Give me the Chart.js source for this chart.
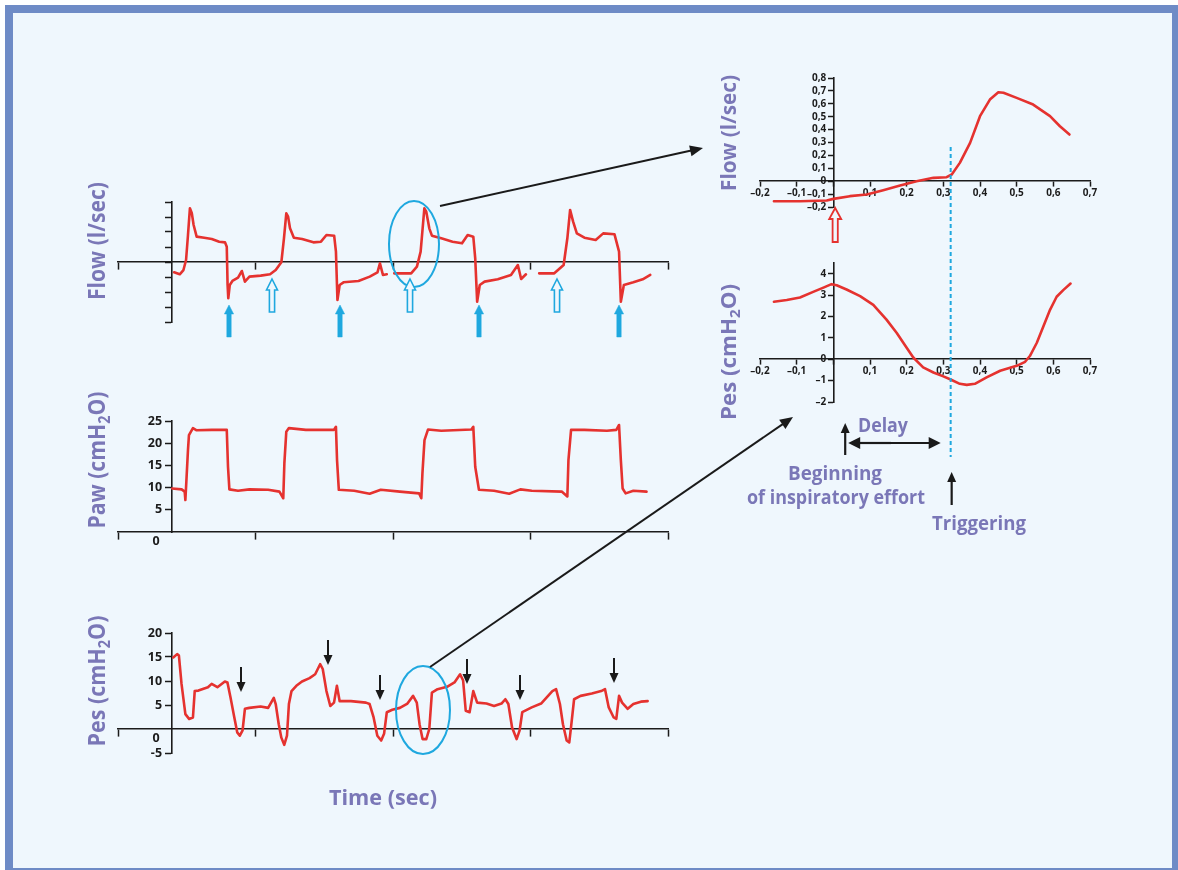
<!DOCTYPE html>
<html><head><meta charset="utf-8">
<script src="https://cdn.jsdelivr.net/npm/chart.js@4.4.1/dist/chart.umd.min.js"></script>
<style>
html,body{margin:0;padding:0;background:#ffffff;width:1178px;height:870px;overflow:hidden;}
#frame{position:absolute;left:5px;top:5px;width:1159px;height:855px;border:8px solid #6e8bc6;background:#eff7fd;}
canvas{position:absolute;}
#ov{position:absolute;left:0;top:0;}
</style></head><body>
<div id="frame"></div>
<canvas id="cFlow"></canvas>
<canvas id="cPaw"></canvas>
<canvas id="cPes"></canvas>
<canvas id="cRFlow"></canvas>
<canvas id="cRPes"></canvas>
<svg id="ov" width="1178" height="870" xmlns="http://www.w3.org/2000/svg"></svg>
<script>
// ---------- DATA (time in arbitrary axis units, left panels; seconds, right panels) ----------
const flowTime = [0.408,0.449,0.476,0.495,0.509,0.523,0.537,0.55,0.572,0.627,0.682,0.736,0.778,0.791,0.797,0.802,0.813,0.832,0.873,0.901,0.923,0.956,1.038,1.106,1.147,1.188,1.207,1.224,1.237,1.251,1.279,1.339,1.421,1.476,1.516,1.572,1.585,1.596,1.612,1.64,1.749,1.831,1.887,1.905,1.927,1.955,
  1.98,
  2.009,2.132,2.174,2.201,2.228,2.242,2.264,2.283,2.351,2.433,2.502,2.543,2.584,2.598,2.612,2.631,2.666,2.762,2.858,2.908,2.932,2.967,
  3.01,
  3.063,3.173,3.241,3.268,3.288,3.31,3.337,3.392,3.474,3.529,3.611,3.644,3.657,3.679,3.748,3.816,3.871];
const flowValues = [-0.138,-0.164,-0.107,0.027,0.36,0.716,0.649,0.493,0.338,0.324,0.307,0.271,0.262,0.204,-0.306,-0.484,-0.306,-0.253,-0.209,-0.12,-0.262,-0.195,-0.182,-0.164,-0.107,-0.004,0.316,0.649,0.604,0.449,0.324,0.307,0.262,0.271,0.36,0.351,0.138,-0.506,-0.306,-0.271,-0.253,-0.195,-0.138,-0.018,-0.173,-0.164,
  null,
  -0.151,-0.151,-0.062,0.138,0.716,0.671,0.449,0.351,0.316,0.271,0.249,0.36,0.338,0.049,-0.529,-0.306,-0.262,-0.231,-0.173,-0.04,-0.227,-0.164,
  null,
  -0.151,-0.151,-0.04,0.316,0.694,0.538,0.382,0.324,0.293,0.382,0.369,0.138,-0.529,-0.306,-0.271,-0.231,-0.173];

const pawTime = [0.394,0.463,0.485,0.49,0.497,0.509,0.516,0.545,0.572,0.682,0.791,0.8,0.81,0.873,0.956,1.092,1.174,1.202,1.21,1.224,1.243,1.366,1.57,1.585,1.593,1.606,1.718,1.83,1.911,2.05,2.19,2.206,2.214,2.229,2.255,2.351,2.57,2.584,2.598,2.625,2.735,2.845,2.926,3.009,3.227,3.268,3.276,3.295,3.392,3.556,3.624,3.644,3.657,3.67,3.692,3.748,3.844];
const pawValues = [9.8,9.6,9.1,7.2,11.3,18.5,21.8,23.4,22.9,23.0,23.0,14.7,9.6,9.3,9.6,9.5,9.1,7.6,15.5,22.6,23.4,23.0,23.0,23.7,16.2,9.5,9.3,8.6,9.5,9.1,8.7,7.6,13.2,20.7,23.1,22.8,23.1,23.7,14.7,9.5,9.3,8.6,9.6,9.3,9.1,8.0,16.2,23.0,23.0,22.8,23.0,24.1,16.2,9.8,8.7,9.3,9.1];

const pesTime = [0.402,0.43,0.443,0.462,0.49,0.517,0.545,0.558,0.585,0.654,0.681,0.723,0.777,0.796,0.818,0.846,0.867,0.886,0.906,0.923,0.955,1.037,1.092,1.133,1.147,1.169,1.188,1.209,1.229,1.243,1.262,1.297,1.338,1.393,1.434,1.47,1.489,1.516,1.544,1.571,1.592,1.612,1.694,1.803,1.83,1.859,1.886,1.914,1.935,1.955,1.995,2.05,2.105,2.146,2.173,2.193,2.215,2.242,2.264,2.283,2.324,2.393,2.447,2.488,2.51,2.529,2.557,2.584,2.612,2.68,2.735,2.789,2.817,2.839,2.866,2.899,2.921,2.94,3.009,3.077,3.118,3.159,3.186,3.214,3.236,3.263,3.282,3.296,3.317,3.364,3.446,3.514,3.542,3.569,3.605,3.624,3.644,3.666,3.707,3.748,3.803,3.852];
const pesValues = [14.9,15.6,15.3,9.4,3.1,2.1,2.4,7.9,8.0,8.7,9.4,8.7,9.9,9.7,6.6,2.4,-0.7,-1.4,-0.3,4.2,4.4,4.7,4.4,6.5,5.2,1.0,-1.8,-3.3,-1.4,5.2,7.9,9.0,9.9,10.6,11.4,13.5,12.5,7.9,4.8,5.5,9.0,5.8,5.8,5.5,5.2,2.4,-1.4,-2.4,-1.0,3.5,4.0,4.4,5.3,6.9,5.5,1.0,-2.1,-2.1,0.0,7.6,8.3,8.8,9.7,11.4,10.1,3.8,3.5,7.9,5.5,5.3,4.8,5.3,6.2,5.2,0.3,-2.1,-0.3,3.5,4.5,5.3,6.6,7.9,8.3,5.2,1.0,-2.4,-2.8,0.7,6.2,6.9,7.4,7.9,8.3,4.5,2.4,2.1,6.9,5.5,4.2,5.2,5.7,5.8];

const zoomFlowTime = [-0.162,-0.091,-0.018,0,0.045,0.091,0.136,0.182,0.227,0.273,0.309,0.323,0.345,0.373,0.4,0.427,0.45,0.464,0.5,0.545,0.591,0.618,0.644];
const zoomFlowValues = [-0.155,-0.155,-0.15,-0.137,-0.116,-0.103,-0.07,-0.034,0,0.026,0.031,0.052,0.142,0.297,0.504,0.633,0.69,0.685,0.646,0.594,0.504,0.426,0.362];

const zoomPesTime = [-0.162,-0.127,-0.091,-0.055,-0.027,-0.005,0.009,0.036,0.073,0.109,0.145,0.173,0.2,0.218,0.245,0.273,0.3,0.32,0.345,0.364,0.386,0.418,0.455,0.5,0.523,0.536,0.555,0.573,0.591,0.609,0.627,0.647];
const zoomPesValues = [2.69,2.77,2.89,3.15,3.35,3.51,3.46,3.26,2.95,2.54,1.85,1.23,0.54,0.08,-0.38,-0.62,-0.8,-0.95,-1.15,-1.2,-1.15,-0.85,-0.54,-0.31,-0.12,0.15,0.77,1.54,2.31,2.92,3.23,3.54];

const pawTicks = [5,10,15,20,25];
const pesTicks = [-5,5,10,15,20];
const zoomPesTicks = [-2,-1,0,1,2,3,4];
const TRIGGER_T = 0.32;   // triggering instant (s)
const EFFORT_T = 0.016;   // beginning of inspiratory effort (s)
const LEFT_YAXIS_T = 0.393;

// ---------- STYLE ----------
const RED='#e5322f', AXIS='#1b1b1b', LABEL='#1b1b1b', TITLE='#7a77b7', CYAN='#1fa8df', BG='#eff7fd';
const FONT='"Open Sans", "DejaVu Sans", sans-serif';
const PAD = 22;

function pts(xs, ys){ return xs.map((x,i)=>({x:x, y:ys[i]})); }
function comma(v){
  const r=Math.round(v*10)/10;
  if (Math.abs(r)<1e-9) return '0';
  const s=Number.isInteger(r)?String(Math.abs(r)):Math.abs(r).toFixed(1).replace('.',',');
  return (r<0?'\u2013':'')+s;
}
function place(id, L, T, W, H){
  const c=document.getElementById(id);
  c.width=W+2*PAD; c.height=H+2*PAD;
  c.style.left=(L-PAD)+'px'; c.style.top=(T-PAD)+'px';
  c.style.width=(W+2*PAD)+'px'; c.style.height=(H+2*PAD)+'px';
  c._left=L-PAD; c._top=T-PAD;
  return c;
}
function axisStyle(tickLen){
  return {grid:{drawOnChartArea:false, drawTicks:true, tickLength:tickLen, tickColor:AXIS, tickWidth:1.5},
          border:{display:true, color:AXIS, width:1.6}};
}
// y labels of an axis crossing the plot: move them left of the tick marks
const yLabelShift = {
  id:'yLabelShift',
  beforeDraw(chart){
    const s = chart.scales.y;
    if (!s.options.ticks.display) return;
    const items = s.getLabelItems(chart.chartArea);
    if (!items._shifted){
      const off = s.options.grid.tickLength + s.options.ticks.padding;
      items.forEach(it => { it.options.translation[0] -= off; });
      items._shifted = true;
    }
  }
};
function makeLine(canvas, data, xs, ys){
  return new Chart(canvas, {type:'line',
    data:{datasets:[{data:data, borderColor:RED, borderWidth:2.6, pointRadius:0, tension:0, fill:false, spanGaps:false, borderJoinStyle:'round', borderCapStyle:'round'}]},
    options:{responsive:false, animation:false, events:[], layout:{padding:PAD},
      plugins:{legend:{display:false}, tooltip:{enabled:false}},
      scales:{x:xs, y:ys}},
    plugins:[yLabelShift]});
}
const leftX = () => Object.assign({type:'linear', min:0, max:4, position:{y:0}, ticks:{display:false, stepSize:1}}, axisStyle(7));

// Left flow
const cFlow = place('cFlow', 118, 202, 550, 120);
makeLine(cFlow, pts(flowTime, flowValues), leftX(),
  Object.assign({type:'linear', min:-0.8, max:0.8, position:{x:LEFT_YAXIS_T}, ticks:{display:false, stepSize:0.2}}, axisStyle(6)));

// Paw
const cPaw = place('cPaw', 118, 421, 550, 111);
makeLine(cPaw, pts(pawTime, pawValues), leftX(),
  Object.assign({type:'linear', min:0, max:25, position:{x:LEFT_YAXIS_T},
    afterBuildTicks: s => { s.ticks = pawTicks.map(v=>({value:v})); },
    ticks:{stepSize:5, color:LABEL, font:{family:FONT, size:12.5, weight:'bold'}, padding:4}}, axisStyle(6)));

// Pes (left)
const cPes = place('cPes', 118, 633, 550, 120);
makeLine(cPes, pts(pesTime, pesValues), leftX(),
  Object.assign({type:'linear', min:-5, max:20, position:{x:LEFT_YAXIS_T},
    afterBuildTicks: s => { s.ticks = pesTicks.map(v=>({value:v})); },
    ticks:{stepSize:5, color:LABEL, font:{family:FONT, size:12.5, weight:'bold'}, padding:4}}, axisStyle(6)));

// Right zoom panels
const rightX = () => Object.assign({type:'linear', min:-0.2, max:0.7, position:{y:0},
  ticks:{stepSize:0.1, autoSkip:false, maxRotation:0, color:LABEL, padding:1, font:{family:FONT, size:10, weight:'bold'},
    callback: v => Math.abs(v)<1e-9 ? '' : comma(v)}}, axisStyle(5));

const cRFlow = place('cRFlow', 760, 78, 330, 129);
const rflow = makeLine(cRFlow, pts(zoomFlowTime, zoomFlowValues), rightX(),
  Object.assign({type:'linear', min:-0.2, max:0.8, position:{x:0},
    ticks:{stepSize:0.1, autoSkip:false, color:LABEL, padding:2, font:{family:FONT, size:10, weight:'bold'}, callback: v => comma(v)}}, axisStyle(5)));

const cRPes = place('cRPes', 760, 263, 330, 139);
const rpes = makeLine(cRPes, pts(zoomPesTime, zoomPesValues), rightX(),
  Object.assign({type:'linear', min:-2, max:4.5, position:{x:0},
    afterBuildTicks: s => { s.ticks = zoomPesTicks.map(v=>({value:v})); },
    ticks:{stepSize:1, autoSkip:false, color:LABEL, padding:2, font:{family:FONT, size:10, weight:'bold'}, callback: v => comma(v)}}, axisStyle(5)));

// ---------- OVERLAY ----------
const out = [];
function arrow(x1,y1,x2,y2,hl,hw,color,sw){
  const dx=x2-x1, dy=y2-y1, L=Math.hypot(dx,dy), ux=dx/L, uy=dy/L;
  const bx=x2-ux*hl, by=y2-uy*hl, px=-uy, py=ux;
  out.push(`<line x1="${x1}" y1="${y1}" x2="${bx+ux*1}" y2="${by+uy*1}" stroke="${color}" stroke-width="${sw}"/>`);
  out.push(`<polygon points="${x2},${y2} ${bx+px*hw},${by+py*hw} ${bx-px*hw},${by-py*hw}" fill="${color}"/>`);
}
function blockUp(x,yT,yB,hh,hw,sw,fill,stroke,strokeW){
  const p=[[x,yT],[x+hw,yT+hh],[x+sw,yT+hh],[x+sw,yB],[x-sw,yB],[x-sw,yT+hh],[x-hw,yT+hh]];
  out.push(`<polygon points="${p.map(q=>q.join(',')).join(' ')}" fill="${fill}" stroke="${stroke}" stroke-width="${strokeW}" stroke-linejoin="miter"/>`);
}
function text(x,y,s,size,len,color,rot,anchor){
  const tr = rot ? `transform="translate(${x},${y}) rotate(-90)" x="0" y="0"` : `x="${x}" y="${y}"`;
  out.push(`<text ${tr} text-anchor="${anchor||'middle'}" font-family='${FONT}' font-weight="700" font-size="${size}" fill="${color}" ${len?`textLength="${len}" lengthAdjust="spacingAndGlyphs"`:''}>${s}</text>`);
}
const sub = (size) => `cmH<tspan font-size="${size*0.68}" dy="${size*0.2}">2</tspan><tspan dy="${-size*0.2}">O)</tspan>`;

// ellipses
out.push(`<ellipse cx="414" cy="244" rx="25" ry="43" fill="none" stroke="${CYAN}" stroke-width="2"/>`);
out.push(`<ellipse cx="423" cy="710" rx="27" ry="44" fill="none" stroke="${CYAN}" stroke-width="2"/>`);
// connecting arrows
arrow(440,206,703,148,13,5.5,'#1a1a1a',2);
arrow(430,667,793,417,13,5.5,'#1a1a1a',2);
// cyan arrows on flow
[229,340,479,619].forEach(x => blockUp(x,305,337,9,4.6,2.2,CYAN,CYAN,0.5));
[272,410,557].forEach(x => blockUp(x,279,312,11,5.5,2.6,BG,CYAN,1.6));
// red hollow arrow (beginning of effort on zoomed flow)
const rOff = cRFlow._left;
const effX = rOff + rflow.scales.x.getPixelForValue(EFFORT_T);
const trigX = rOff + rflow.scales.x.getPixelForValue(TRIGGER_T);
blockUp(effX-4,208,242,11,6,2.6,BG,RED,1.8);
// black arrows on Pes
[[241,667],[328,640],[380,675],[467,659],[520,675],[614,658]].forEach(([x,y]) => arrow(x,y,x,y+25,10,4.5,'#1a1a1a',2));
// dashed trigger line
out.push(`<line x1="${trigX}" y1="147" x2="${trigX}" y2="457" stroke="${CYAN}" stroke-width="2" stroke-dasharray="4 3"/>`);
// delay annotations
arrow(effX+6,455,effX+6,423,10,4.5,'#1a1a1a',2.2);
arrow(891,443,trigX-10,443,12,6,'#1a1a1a',2.2);
arrow(891,443,effX+9,443,12,6,'#1a1a1a',2.2);
arrow(trigX+1,505,trigX+1,472,10,4.5,'#1a1a1a',2.2);

// titles
text(105,241,'Flow (l/sec)',23,118,TITLE,true);
text(105,460,'Paw ('+sub(23),23,137,TITLE,true);
text(105,681,'Pes ('+sub(23),23,131,TITLE,true);
text(736,133,'Flow (l/sec)',21,116,TITLE,true);
text(736,352,'Pes ('+sub(21),21,136,TITLE,true);
text(383,805,'Time (sec)',22,108,TITLE,false);
text(883,432,'Delay',20,50,TITLE,false);
text(835,480,'Beginning',19.5,94,TITLE,false);
text(836,504,'of inspiratory effort',19.5,178,TITLE,false);
text(979,530,'Triggering',19.5,94,TITLE,false);
// zero labels below x axis of left panels
text(156,545,'0',12.5,0,LABEL,false);
text(156,742,'0',12.5,0,LABEL,false);

document.getElementById('ov').innerHTML = out.join('');
</script>
</body></html>
